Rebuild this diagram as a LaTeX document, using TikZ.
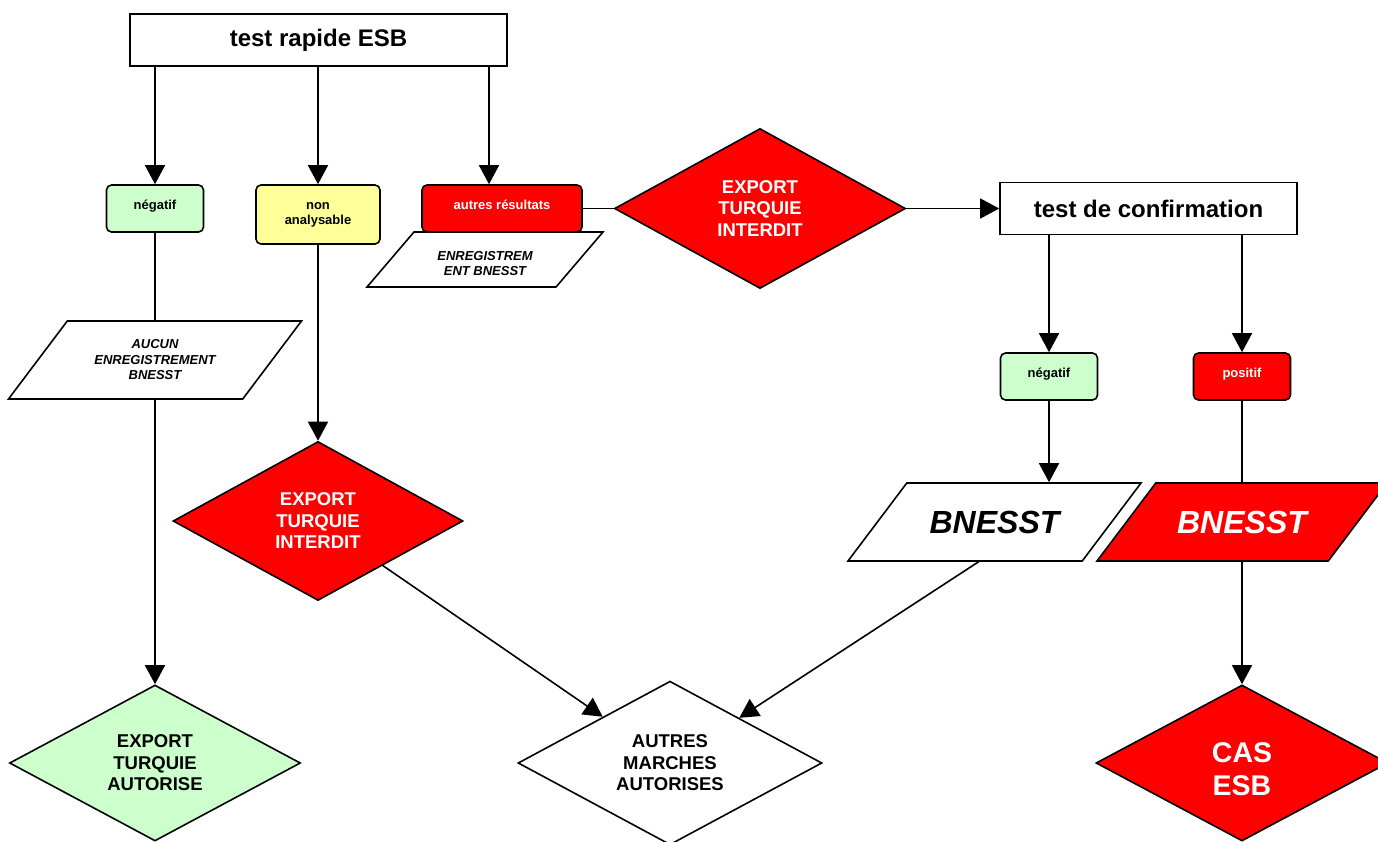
\documentclass[tikz,border=0pt]{standalone}
\usepackage{fontspec}
\setmainfont{Liberation Sans}
\usetikzlibrary{shapes.geometric,arrows.meta}
\definecolor{vert}{HTML}{CCFFCC}
\definecolor{jaune}{HTML}{FFFF99}
\newcommand{\bloc}[3]{\parbox[c][#1][c]{#2}{\centering #3}}

\begin{document}
\begin{tikzpicture}[x=1pt,y=-1pt,line width=1.6pt,
  titre/.style={draw,fill=white,rectangle,inner sep=0pt,font=\fontsize{24}{28}\selectfont\bfseries},
  res/.style={draw,rectangle,rounded corners=5pt,inner sep=0pt,align=center,font=\fontsize{13}{15}\selectfont\bfseries},
  ligne/.style={text height=9.5pt,text depth=8pt},
  para/.style={draw,fill=white,trapezium,trapezium left angle=53,trapezium right angle=127,trapezium stretches body,inner sep=0pt,font=\fontsize{13}{15.5}\selectfont\bfseries\itshape},
  losange/.style={draw,diamond,inner sep=0pt,align=center,font=\fontsize{18.5}{21.5}\selectfont\bfseries},
  fl/.style={-{Triangle[length=19pt,width=20pt]}}]
\useasboundingbox (0,0) rectangle (1378,841);
% premier test
\node[titre,minimum width=377,minimum height=52] (rapide) at (318.5,40) {test rapide ESB};
\node[res,ligne,fill=vert,minimum width=97,minimum height=47] (neg) at (155,208.5) {négatif};
\node[res,fill=jaune,minimum width=124,minimum height=59] (nonana) at (318,214.5) {non\\analysable};
\node[res,ligne,fill=red,text=white,minimum width=160,minimum height=47] (autres) at (502,208.5) {autres résultats};
\node[para,minimum width=236,trapezium left angle=49.5,trapezium right angle=130.5,font=\fontsize{13}{14.5}\selectfont\bfseries\itshape] (enreg) at (485,259.5) {\bloc{55pt}{130pt}{\vspace*{8pt}ENREGISTREM\\ENT BNESST}};
\node[para,minimum width=293] (aucun) at (155,360) {\bloc{78pt}{170pt}{AUCUN\\ENREGISTREMENT\\BNESST}};
\node[losange,fill=red,text=white,minimum width=291,minimum height=160] (interdit) at (760,208.5) {EXPORT\\TURQUIE\\INTERDIT};
\node[losange,fill=red,text=white,minimum width=290,minimum height=159] (interdit2) at (318,521) {EXPORT\\TURQUIE\\INTERDIT};
\node[losange,fill=vert,minimum width=291,minimum height=156] (autorise) at (155,763) {EXPORT\\TURQUIE\\AUTORISE};
\node[losange,fill=white,minimum width=304,minimum height=156] (marches) at (670,763) {AUTRES\\MARCHES\\AUTORISES};
% test de confirmation
\node[titre,minimum width=297,minimum height=52] (confirm) at (1148.5,208.5) {test de confirmation};
\node[res,ligne,fill=vert,minimum width=97,minimum height=47] (negconf) at (1049,376.5) {négatif};
\node[res,ligne,fill=red,text=white,minimum width=97,minimum height=47] (posconf) at (1242,376.5) {positif};
\node[para,minimum width=293,font=\fontsize{32}{36}\selectfont\bfseries\itshape] (bnw) at (994.5,522) {\bloc{78pt}{170pt}{BNESST}};
\node[para,fill=red,text=white,minimum width=290,font=\fontsize{32}{36}\selectfont\bfseries\itshape] (bnr) at (1242,522) {\bloc{78pt}{170pt}{BNESST}};
\node[losange,fill=red,text=white,minimum width=292,minimum height=156,font=\fontsize{28.5}{33}\selectfont\bfseries] (cas) at (1242,763) {\bloc{50pt}{70pt}{\vspace*{12pt}CAS\\ESB}};
% fleches
\draw[fl] (rapide.south -| neg.north) -- (neg.north);
\draw[fl] (rapide.south -| nonana.north) -- (nonana.north);
\draw[fl] ([xshift=-13pt]autres.north |- rapide.south) -- ([xshift=-13pt]autres.north);
\draw (neg.south) -- (aucun.north);
\draw[fl] (aucun.south) -- (autorise.north);
\draw[fl] (nonana.south) -- (interdit2.north);
\draw (autres.east) -- (interdit.west);
\draw[fl] (interdit.east) -- (confirm.west);
\draw[fl] (confirm.south -| negconf.north) -- (negconf.north);
\draw[fl] (confirm.south -| posconf.north) -- (posconf.north);
\draw[fl] (negconf.south) -- (negconf.south |- bnw.north);
\draw (posconf.south) -- (posconf.south |- bnr.north);
\draw[fl] (bnr.south) -- (cas.north);
\draw[fl] (interdit2) -- (marches);
\draw[fl] ([xshift=-16pt]bnw.south) -- (marches);
\end{tikzpicture}
\end{document}
